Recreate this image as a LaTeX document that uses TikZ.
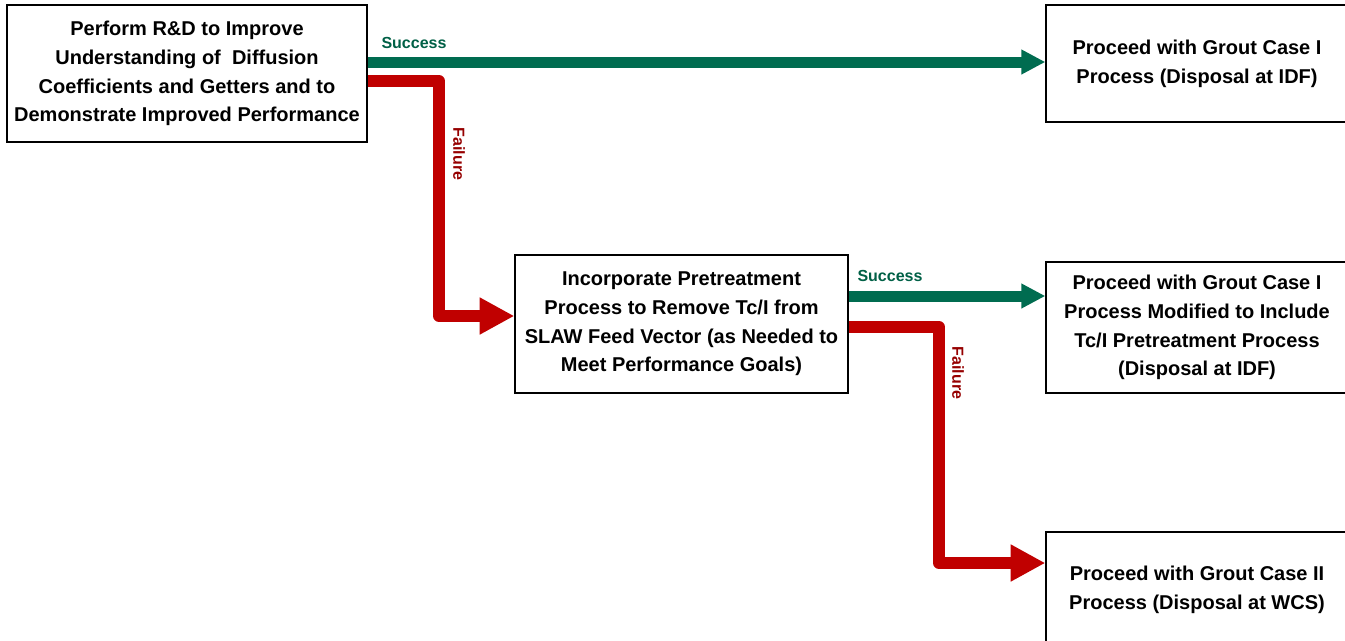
\documentclass[tikz,border=0pt]{standalone}
\usepackage{fontspec}
\setmainfont{Liberation Sans}
\usetikzlibrary{arrows.meta}
\definecolor{okgreen}{RGB}{0,108,80}
\definecolor{okgreentext}{RGB}{0,96,70}
\definecolor{failred}{RGB}{192,0,0}
\definecolor{failredtext}{RGB}{150,0,0}
\begin{document}
\begin{tikzpicture}[x=0.75pt,y=-0.75pt,
  box/.style={draw=black,line width=1pt,fill=white,align=center,inner sep=0pt,
    font=\bfseries\fontsize{15}{21.5}\selectfont},
  succ/.style={draw=okgreen,line width=8.25pt,
    -{Triangle[length=18pt,width=17.5pt]}},
  fail/.style={draw=failred,line width=9pt,line join=round,
    -{Triangle[length=26pt,width=26pt]}},
  succlbl/.style={text=okgreentext,font=\bfseries\fontsize{12}{14}\selectfont,inner sep=0pt},
  faillbl/.style={text=failredtext,font=\bfseries\fontsize{12}{14}\selectfont,inner sep=0pt,rotate=-90}]
\clip (0,0) rectangle (1345,640);
\fill[white] (0,0) rectangle (1345,640);

% process boxes
\node[box,minimum width=270pt,minimum height=102.75pt] (b1) at (187,73.5)
  {Perform R\&D to Improve\\Understanding of\ \ Diffusion\\Coefficients and Getters and to\\Demonstrate Improved Performance};
\node[box,minimum width=226.5pt,minimum height=87.75pt] (b2) at (1197,63.5)
  {Proceed with Grout Case I\\Process (Disposal at IDF)};
\node[box,minimum width=249.75pt,minimum height=103.5pt] (b3) at (681.5,324)
  {Incorporate Pretreatment\\Process to Remove Tc/I from\\SLAW Feed Vector (as Needed to\\Meet Performance Goals)};
\node[box,minimum width=226.5pt,minimum height=98.25pt] (b4) at (1197,327.5)
  {Proceed with Grout Case I\\Process Modified to Include\\Tc/I Pretreatment Process\\(Disposal at IDF)};
\node[box,minimum width=226.5pt,minimum height=87pt] (b5) at (1197,590)
  {Proceed with Grout Case II\\Process (Disposal at WCS)};

% bend points of the failure paths
\coordinate (bend1) at (439,316);
\coordinate (bend2) at (939,563);

% connectors
\draw[succ] (b1.east |- 0,62) -- (b2.west |- 0,62);
\draw[fail] (b1.east |- 0,81) -| (bend1) -- (b3.west |- bend1);
\draw[succ] (b3.east |- 0,296) -- (b4.west |- 0,296);
\draw[fail] (b3.east |- 0,327) -| (bend2) -- (b5.west |- bend2);

% connector labels
\node[succlbl] (s1) at (414,43) {Success};
\node[faillbl] (f1) at (459,154) {Failure};
\node[succlbl] (s2) at (890,276) {Success};
\node[faillbl] (f2) at (958,373) {Failure};
\end{tikzpicture}
\end{document}
